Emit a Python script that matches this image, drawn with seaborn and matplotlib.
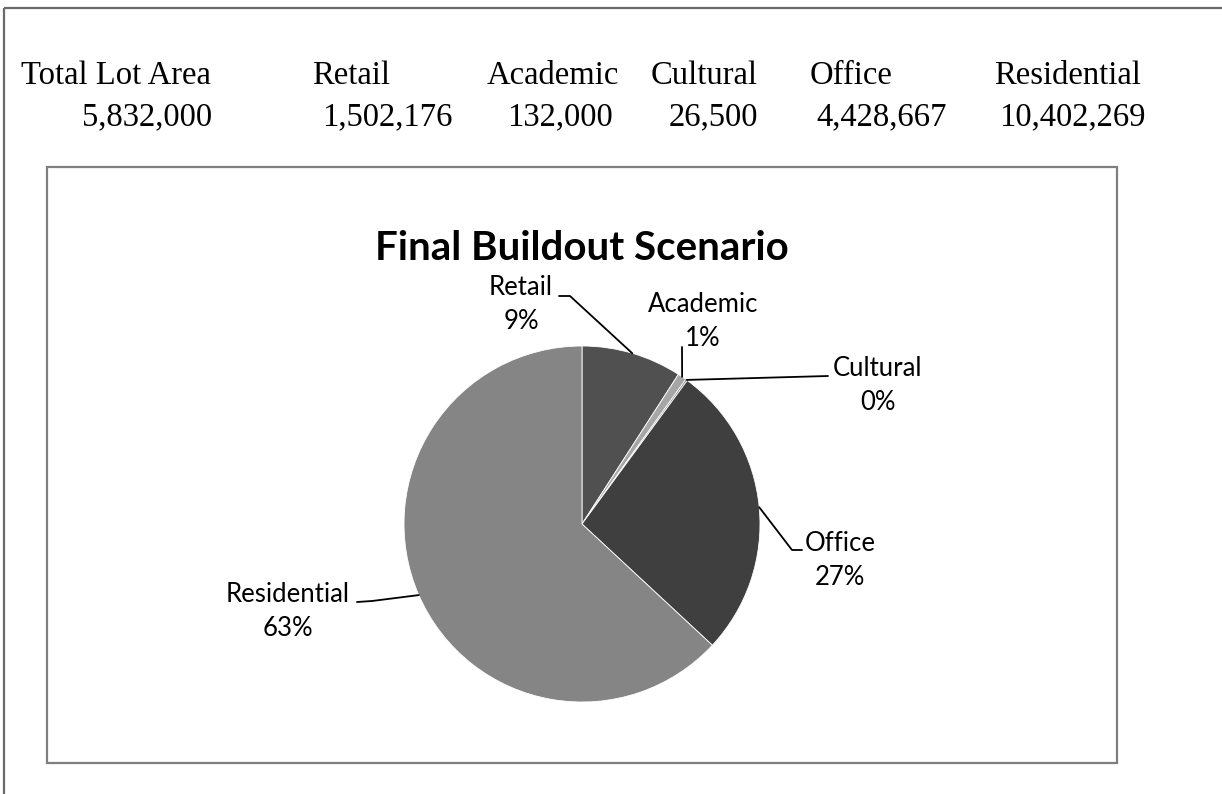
import matplotlib
matplotlib.use("Agg")
import matplotlib.pyplot as plt
import seaborn as sns
import numpy as np
from matplotlib.patches import Rectangle

# ---- data -------------------------------------------------------------
header_labels = ["Total Lot Area", "Retail", "Academic", "Cultural", "Office", "Residential"]
header_values = [5832000, 1502176, 132000, 26500, 4428667, 10402269]

uses = ["Retail", "Academic", "Cultural", "Office", "Residential"]
use_area = [1502176, 132000, 26500, 4428667, 10402269]
use_colors = ["#505050", "#a6a6a6", "#7a7a7a", "#3f3f3f", "#858585"]

chart_title = "Final Buildout Scenario"

# ---- layout (pixel space, origin top-left) ----------------------------
W, H = 1222, 794
head_x = [21, 312, 487, 651, 810, 994]        # left edge of column headers
value_x = [212, 453, 613, 758, 947, 1146]     # right edge of column values
head_base, value_base = 84, 125

pie_center = (582, 524)
pie_radius = 178

# label block centre-x, first baseline, and leader points (label side -> elbow)
label_layout = {
    "Retail":      dict(x=521, y=295, leader=[(559, 296), (570, 296)]),
    "Academic":    dict(x=703, y=312, leader=[(682, 347)]),
    "Cultural":    dict(x=878, y=376, leader=[(828, 376)]),
    "Office":      dict(x=840, y=551, leader=[(802, 550), (792, 550)]),
    "Residential": dict(x=288, y=602, leader=[(357, 602), (372, 601)]),
}

sns.set_theme(style="white")
plt.rcParams["font.family"] = ["Lato", "DejaVu Sans"]

fig = plt.figure(figsize=(W / 100, H / 100), dpi=100)
ax = fig.add_axes([0, 0, 1, 1])

palette = sns.color_palette(use_colors)
wedges, _ = ax.pie(use_area, colors=palette, startangle=-90, counterclock=True,
                   center=pie_center, radius=pie_radius,
                   wedgeprops=dict(edgecolor="white", linewidth=0.6))

ax.set_xlim(0, W)
ax.set_ylim(H, 0)
ax.set_aspect("equal")
ax.axis("off")

# page frame lines (top and left)
ax.plot([4, W], [8, 8], color="#6a6a6a", lw=1.6, solid_capstyle="butt")
ax.plot([4, 4], [8, H], color="#6a6a6a", lw=1.6, solid_capstyle="butt")

# chart area border
ax.add_patch(Rectangle((47, 167), 1070, 596, fill=False, edgecolor="#7f7f7f", lw=1.6))

# summary row
serif = ["Liberation Serif", "DejaVu Serif"]
for lab, val, hx, vx in zip(header_labels, header_values, head_x, value_x):
    ax.text(hx, head_base, lab, ha="left", va="baseline", fontsize=23.5,
            family=serif, color="black")
    ax.text(vx, value_base, f"{val:,}", ha="right", va="baseline", fontsize=23.5,
            family=serif, color="black")

# title
ax.text(pie_center[0], 260, chart_title, ha="center", va="baseline",
        fontsize=29, fontweight="bold", color="black")

# slice labels with leader lines
total = sum(use_area)
for name, val, wedge in zip(uses, use_area, wedges):
    mid = np.deg2rad((wedge.theta1 + wedge.theta2) / 2)
    ex = pie_center[0] + pie_radius * np.cos(mid)
    ey = pie_center[1] + pie_radius * np.sin(mid)
    lay = label_layout[name]
    pts = lay["leader"] + [(ex, ey)]
    xs, ys = zip(*pts)
    ax.plot(xs, ys, color="black", lw=1.3)
    pct = f"{round(val / total * 100)}%"
    ax.text(lay["x"], lay["y"], name, ha="center", va="baseline", fontsize=18.5, color="black")
    ax.text(lay["x"], lay["y"] + 34, pct, ha="center", va="baseline", fontsize=18.5, color="black")

fig.savefig("out.png", dpi=100, facecolor="white")
